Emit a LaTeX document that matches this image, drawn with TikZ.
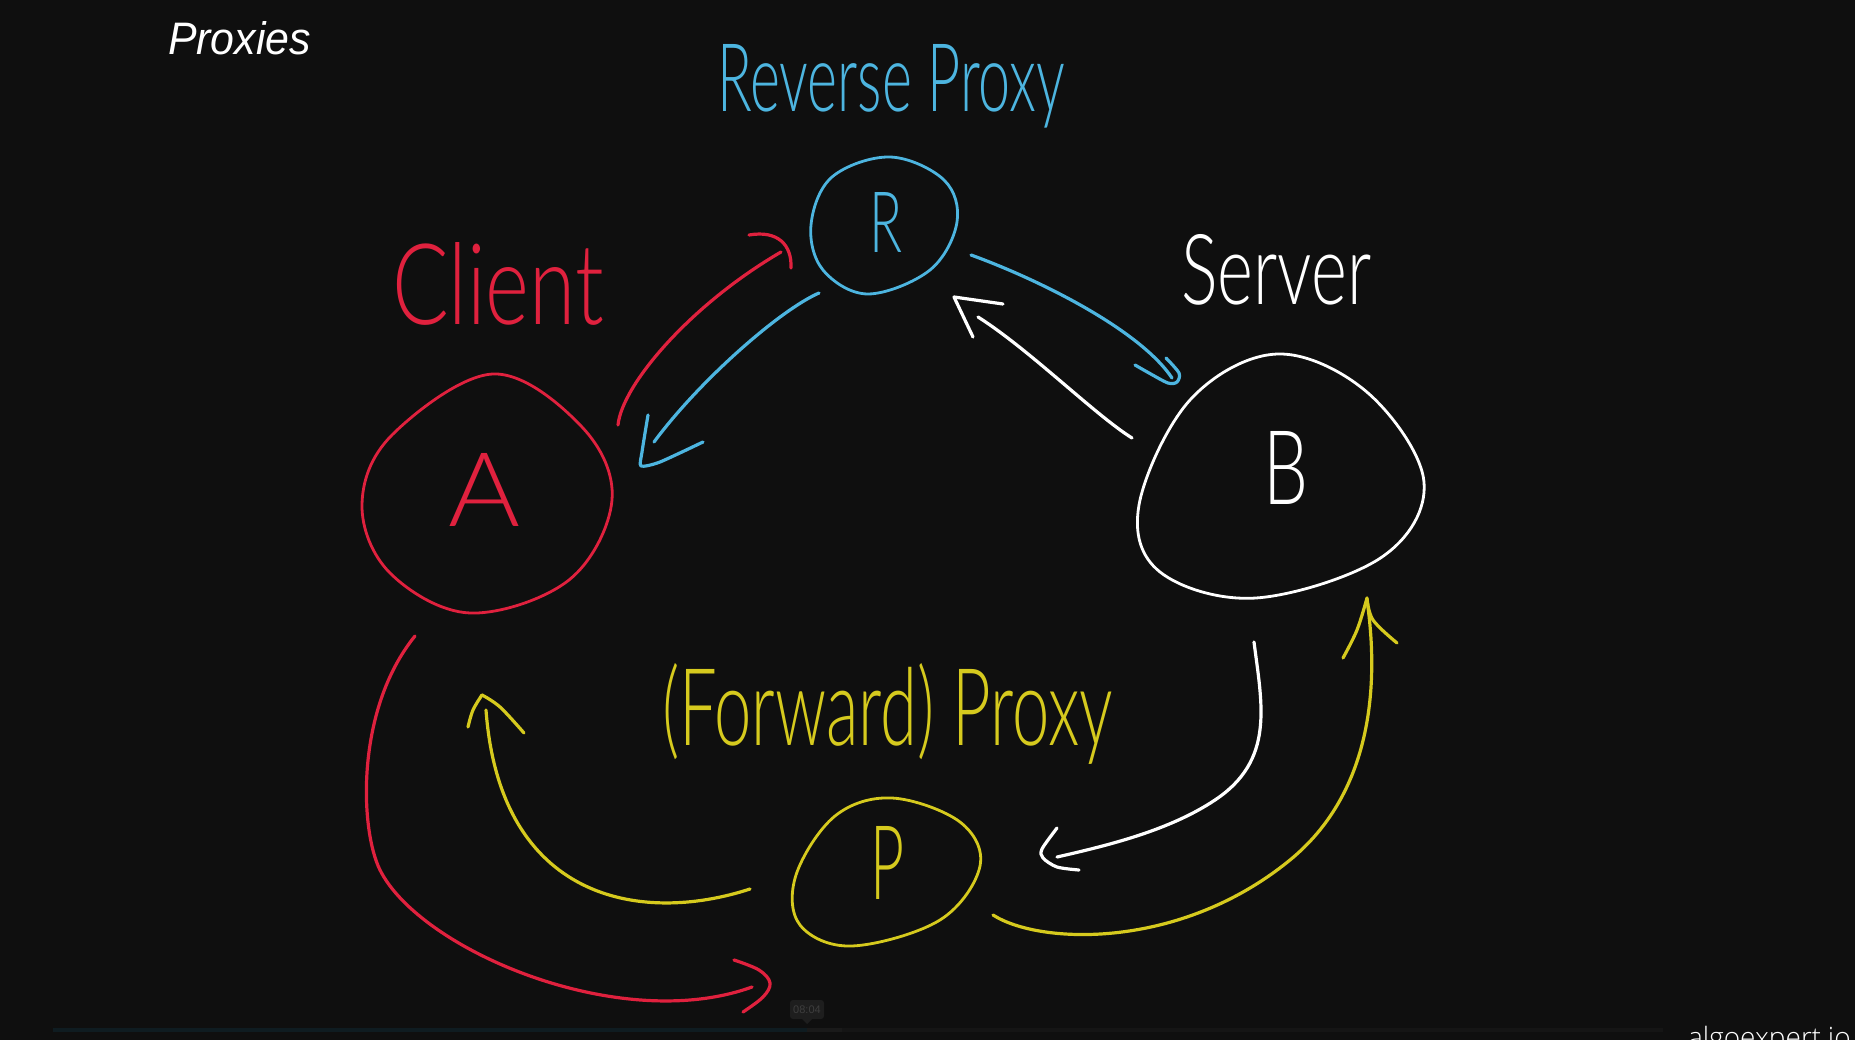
\documentclass[tikz,border=0pt]{standalone}
\usepackage{fontspec}
\usepackage{graphicx}
\IfFontExistsTF{Lato Light}{\newfontfamily\handfont{Lato Light}}{\newfontfamily\handfont{Lato}}
\IfFontExistsTF{Open Sans Light}{\newfontfamily\brandfont{Open Sans Light}}{\newfontfamily\brandfont{Open Sans}}
\newfontfamily\titlefont{Liberation Sans}
\definecolor{bg}{HTML}{0F0F0F}
\definecolor{inkred}{HTML}{E0213E}
\definecolor{inkblue}{HTML}{4DB5E0}
\definecolor{inkyellow}{HTML}{D6CA1E}
\definecolor{inkwhite}{HTML}{FFFFFF}
\begin{document}
\begin{tikzpicture}[x=1pt,y=-1pt,
  ink/.style={line width=3.2pt,line cap=round,line join=round},
  redink/.style={ink,draw=inkred},
  blueink/.style={ink,draw=inkblue},
  yellowink/.style={ink,draw=inkyellow},
  whiteink/.style={ink,draw=inkwhite},
  rim/.style={line width=2.8pt},
  lbl/.style={inner sep=0pt,outer sep=0pt},
  curve/.style={smooth,tension=0.6},
  loopcurve/.style={smooth cycle,tension=0.6}]
% canvas
\fill[bg] (0,0) rectangle (1855,1040);
\useasboundingbox (0,0) rectangle (1855,1040);

% title
\node[lbl,anchor=base west,text=inkwhite] (title) at (168,55)
  {\resizebox{143pt}{33pt}{\titlefont\itshape Proxies}};

% labels
\node[lbl,anchor=base west,text=inkblue] (revlbl) at (717,112)
  {\resizebox{348pt}{67pt}{\handfont Reverse Proxy}};
\node[lbl,anchor=base west,text=inkred] (clientlbl) at (392,325)
  {\resizebox{212pt}{82pt}{\handfont Client}};
\node[lbl,anchor=base west,text=inkwhite] (serverlbl) at (1181,305)
  {\resizebox{190pt}{70pt}{\handfont Server}};
\node[lbl,anchor=base west,text=inkyellow] (fwdlbl) at (662,745)
  {\resizebox{451pt}{82pt}{\handfont (Forward) Proxy}};

% node letters
\node[lbl,text=inkblue] (R) at (886,222) {\resizebox{33pt}{60pt}{\handfont R}};
\node[lbl,text=inkred] (A) at (484,490) {\resizebox{72pt}{73pt}{\handfont A}};
\node[lbl,text=inkwhite] (B) at (1286,468) {\resizebox{45pt}{73pt}{\handfont B}};
\node[lbl,text=inkyellow] (P) at (887,863) {\resizebox{34pt}{73pt}{\handfont P}};

% hand-drawn outlines
\draw[redink,rim] plot[loopcurve] coordinates {(493,374) (582,427) (612,500) (569,580) (470,613) (390,573) (362,505) (392,435)};
\draw[blueink,rim] plot[loopcurve] coordinates {(890,157) (944,180) (957,222) (930,270) (868,294) (823,270) (811,225) (832,177)};
\draw[whiteink,rim] plot[loopcurve] coordinates {(1277,354) (1368,393) (1424,482) (1382,557) (1256,598) (1160,572) (1139,505) (1190,400)};
\draw[yellowink,rim] plot[loopcurve] coordinates {(892,798) (960,822) (980,866) (940,920) (852,946) (800,925) (796,875) (835,816)};

% connector end points
\coordinate (ar-s) at (618,425);  \coordinate (ar-e) at (781,252);  \coordinate (ar-t) at (791,268);
\coordinate (ra-s) at (819,293);  \coordinate (ra-e) at (654,442);  \coordinate (ra-t) at (641,466);
\coordinate (rb-s) at (971,255);  \coordinate (rb-e) at (1172,378); \coordinate (rb-t) at (1177,382);
\coordinate (br-s) at (1132,438); \coordinate (br-e) at (978,317);  \coordinate (br-t) at (954,297);
\coordinate (bp-s) at (1254,642); \coordinate (bp-e) at (1057,857); \coordinate (bp-t) at (1043,858);
\coordinate (pb-s) at (993,915);  \coordinate (pb-e) at (1367,600); \coordinate (pb-t) at (1367,598);
\coordinate (pa-s) at (750,889);  \coordinate (pa-e) at (486,710);  \coordinate (pa-t) at (482,695);
\coordinate (ap-s) at (415,636);  \coordinate (ap-e) at (752,987);  \coordinate (ap-t) at (770,983);

% red: A -> R
\draw[redink] (ar-s) .. controls (622,385) and (690,305) .. (ar-e);
\draw[redink] (749,235) .. controls (778,230) and (792,245) .. (ar-t);
% blue: R -> A
\draw[blueink] (ra-s) .. controls (780,310) and (700,380) .. (ra-e);
\draw[blueink] plot[smooth,tension=0.4] coordinates {(648,415) (642,452) (ra-t) (660,462) (703,442)};
% blue: R -> B
\draw[blueink] (rb-s) .. controls (1040,280) and (1140,330) .. (rb-e);
\draw[blueink] plot[smooth,tension=0.5] coordinates {(1135,365) (1149,373) (1168,383) (rb-t) (1179,373) (1166,358)};
% white: B -> R
\draw[whiteink] (br-s) .. controls (1095,415) and (1030,350) .. (br-e);
\draw[whiteink] (1003,304) -- (br-t) -- (973,337);
% white: B -> P
\draw[whiteink] (bp-s) .. controls (1262,705) and (1275,760) .. (1215,800)
                       .. controls (1170,830) and (1110,845) .. (bp-e);
\draw[whiteink] plot[smooth,tension=0.5] coordinates {(1057,828) (1042,849) (bp-t) (1057,867) (1079,870)};
% yellow: P -> B
\draw[yellowink] (pb-s) .. controls (1040,945) and (1180,950) .. (1290,860)
                        .. controls (1370,794.5) and (1380,690) .. (pb-e);
\draw[yellowink] plot[curve] coordinates {(1343,658) (1357,630) (pb-t)};
\draw[yellowink] plot[curve] coordinates {(pb-t) (1373,620) (1397,643)};
% yellow: P -> A
\draw[yellowink] (pa-s) .. controls (640,925) and (500,900) .. (pa-e);
\draw[yellowink] plot[curve] coordinates {(468,727) (473,710) (pa-t)};
\draw[yellowink] plot[curve] coordinates {(pa-t) (500,707) (524,733)};
% red: A -> P
\draw[redink] (ap-s) .. controls (355,710) and (360,830) .. (380,870)
                     .. controls (420,950) and (620,1035) .. (ap-e);
\draw[redink] plot[curve] coordinates {(734,960) (759,970) (ap-t) (763,997) (743,1012)};

% player overlay
\fill[fill={rgb,255:red,15;green,28;blue,33}] (53,1028) rectangle (807,1032);
\fill[fill={rgb,255:red,26;green,26;blue,26}] (807,1028) rectangle (842,1032);
\fill[fill={rgb,255:red,21;green,21;blue,21}] (842,1028) rectangle (1663,1032);
\fill[fill={rgb,255:red,30;green,30;blue,30},rounded corners=3pt] (790,1000) rectangle (824,1019);
\fill[fill={rgb,255:red,30;green,30;blue,30}] (802,1019) -- (812,1019) -- (807,1024) -- cycle;
\node[lbl,text={rgb,255:red,62;green,62;blue,62}] (time) at (807,1009.5) {\titlefont\fontsize{11pt}{11pt}\selectfont 08:04};
\node[lbl,anchor=base west,text=inkwhite] (brand) at (1688,1047) {\brandfont\fontsize{28pt}{28pt}\selectfont algoexpert.io};
\end{tikzpicture}
\end{document}
